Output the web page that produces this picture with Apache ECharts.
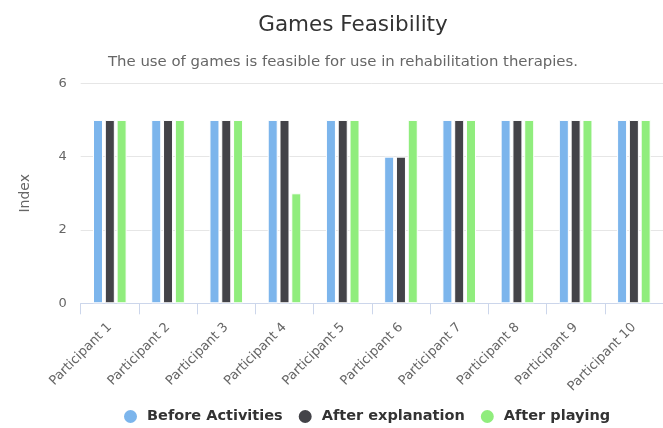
<!DOCTYPE html>
<html>
<head>
<meta charset="utf-8">
<script src="https://cdn.jsdelivr.net/npm/echarts@6/dist/echarts.min.js"></script>
<style>
  html, body { margin: 0; padding: 0; background: #fff; }
  #chart { width: 663px; height: 428px; }
</style>
</head>
<body>
<div id="chart"></div>
<script>
// Participants on the x axis
const participants = [
  'Participant 1', 'Participant 2', 'Participant 3', 'Participant 4', 'Participant 5',
  'Participant 6', 'Participant 7', 'Participant 8', 'Participant 9', 'Participant 10'
];

// Feasibility index per participant at each stage
const beforeActivities = [5, 5, 5, 5, 5, 4, 5, 5, 5, 5];
const afterExplanation = [5, 5, 5, 5, 5, 4, 5, 5, 5, 5];
const afterPlaying     = [5, 5, 5, 3, 5, 5, 5, 5, 5, 5];

const seriesNames = ['Before Activities', 'After explanation', 'After playing'];
const seriesColors = ['#7cb5ec', '#434348', '#90ed7d'];

const yTicks = { min: 0, max: 6, interval: 2 };

const FONT = 'DejaVu Sans';

const chart = echarts.init(document.getElementById('chart'));

const mkBar = (name, data, color) => ({
  name: name,
  type: 'bar',
  data: data,
  barWidth: 10,
  barGap: '18%',
  itemStyle: { color: color, borderColor: '#ffffff', borderWidth: 1 },
  emphasis: { disabled: true }
});

chart.setOption({
  animation: false,
  textStyle: { fontFamily: FONT },
  title: [
    {
      text: 'Games Feasibility',
      left: 348, top: 9, textAlign: 'center',
      textStyle: { fontFamily: FONT, fontSize: 21.5, fontWeight: 'normal', color: '#333333' }
    },
    {
      text: 'The use of games is feasible for use in rehabilitation therapies.',
      left: 338, top: 50, textAlign: 'center',
      textStyle: { fontFamily: FONT, fontSize: 14.9, fontWeight: 'normal', color: '#666666' }
    }
  ],
  legend: {
    data: seriesNames,
    top: 403,
    left: 117,
    icon: 'circle',
    itemWidth: 15,
    itemHeight: 15,
    itemGap: 14,
    textStyle: { fontFamily: FONT, fontSize: 14.5, fontWeight: 'bold', color: '#333333', padding: [0, 0, 0, 4] }
  },
  grid: { left: 80.7, right: -3.7, top: 83.3, bottom: 124.7, containLabel: false },
  xAxis: {
    type: 'category',
    data: participants,
    axisLine: { lineStyle: { color: '#ccd6eb' } },
    axisTick: { show: true, length: 11, lineStyle: { color: '#ccd6eb' } },
    axisLabel: {
      rotate: 45, interval: 0, margin: 22,
      fontFamily: FONT, fontSize: 13, color: '#666666'
    }
  },
  yAxis: {
    type: 'value',
    min: yTicks.min, max: yTicks.max, interval: yTicks.interval,
    name: 'Index',
    nameLocation: 'middle',
    nameGap: 48,
    nameTextStyle: { fontFamily: FONT, fontSize: 14, color: '#666666' },
    axisLine: { show: false },
    axisTick: { show: false },
    splitLine: { lineStyle: { color: '#e6e6e6' } },
    axisLabel: { margin: 14, fontFamily: FONT, fontSize: 13, color: '#666666' }
  },
  series: [
    mkBar(seriesNames[0], beforeActivities, seriesColors[0]),
    mkBar(seriesNames[1], afterExplanation, seriesColors[1]),
    mkBar(seriesNames[2], afterPlaying, seriesColors[2])
  ]
});
</script>
</body>
</html>
